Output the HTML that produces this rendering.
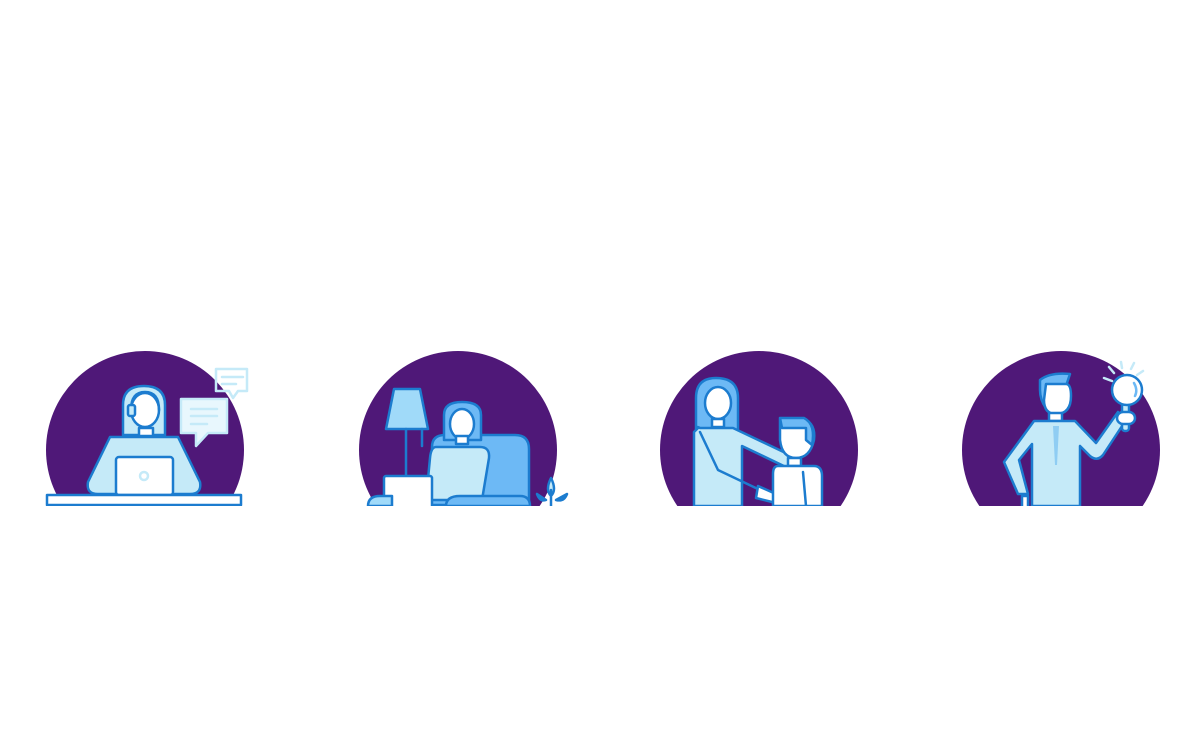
<!DOCTYPE html>
<html><head><meta charset="utf-8"><style>html,body{margin:0;padding:0;background:#fff}svg{display:block}</style></head>
<body>
<svg width="1200" height="756" viewBox="0 0 1200 756" xmlns="http://www.w3.org/2000/svg">
<defs><clipPath id="c"><rect x="0" y="0" width="1200" height="506"/></clipPath></defs>
<g clip-path="url(#c)" stroke-linejoin="round" stroke-linecap="round">
<g fill="#4f1878">
<circle cx="145" cy="450" r="99"/><circle cx="458" cy="450" r="99"/><circle cx="759" cy="450" r="99"/><circle cx="1061" cy="450" r="99"/>
</g>
<g stroke="#1c7ccf" stroke-width="2.5">
<!-- 1 -->
<path d="M123 435 V405 Q123 386 144 386 Q165 386 165 405 V435 Z" fill="#c5eaf8"/>
<ellipse cx="145" cy="410" rx="14" ry="17" fill="#fff"/>
<path d="M131 410 Q131 392 145 392 Q159 392 159 410" fill="none"/>
<rect x="128" y="405" width="7" height="11" rx="2" fill="#c5eaf8"/>
<rect x="139" y="428" width="14" height="8" fill="#fff"/>
<path d="M110 437 H178 L200 482 Q202 494 190 494 H98 Q86 494 88 482 Z" fill="#c5eaf8"/>
<rect x="116" y="457" width="57" height="38" rx="3" fill="#fff"/>
<circle cx="144" cy="476" r="4" fill="none" stroke="#c5eaf8"/>
<rect x="47" y="495" width="194" height="10" fill="#fff"/>
<path d="M181 399 H227 V433 H208 L196 446 V433 H181 Z" fill="#e8f7fd" stroke="#c5eaf8"/>
<path d="M191 409H217M191 416H217M191 424H207" stroke="#c5eaf8"/>
<path d="M216 369 H247 V391 H238 L233 398 L229 391 H216 Z" fill="none" stroke="#c5eaf8"/>
<path d="M222 377H243M222 384H236" stroke="#c5eaf8"/>
<!-- 2 -->
<path d="M394 389 H420 L428 429 H386 Z" fill="#a0daf9"/>
<path d="M406 429 V476M422 429 V446" fill="none"/>
<path d="M432 496 V447 Q432 435 445 435 H515 Q529 435 529 449 V505 H432" fill="#6db9f5"/>
<path d="M444 440 V415 Q444 402 462 402 Q481 402 481 415 V440 Z" fill="#6db9f5"/>
<ellipse cx="462" cy="424" rx="12" ry="15" fill="#fff"/>
<rect x="456" y="436" width="12" height="8" fill="#fff"/>
<path d="M436 447 H480 Q490 447 489 458 L482 500 H426 L430 458 Q431 447 436 447Z" fill="#c5eaf8"/>
<rect x="384" y="476" width="48" height="40" rx="2" fill="#fff"/>
<path d="M368 506 Q368 496 380 496 H392 V506Z" fill="#a0daf9"/>
<path d="M446 506 Q446 496 460 496 H520 Q530 496 530 506Z" fill="#6db9f5"/>
<path d="M551 506 V490 M551 478 Q545 490 551 496 Q557 490 551 478Z M546 500 L537 494 Q540 502 546 500Z M556 500 L567 494 Q564 502 556 500Z" fill="#c5eaf8"/>
<!-- 3 -->
<path d="M696 434 V398 Q696 378 716 378 Q738 378 738 398 V434 Z" fill="#6db9f5"/>
<ellipse cx="718" cy="403" rx="13" ry="16" fill="#fff"/>
<rect x="712" y="419" width="12" height="8" fill="#fff"/>
<path d="M698 428 Q696 426 700 428 H733 L792 456 L788 468 L742 446 V506 H694 V432 Z" fill="#c5eaf8"/>
<path d="M700 432 L718 470 L760 490" fill="none"/>
<path d="M758 486 L776 494 Q780 500 772 502 L756 498Z" fill="#fff"/>
<path d="M780 419 H804 Q816 424 814 440 Q810 458 796 458 Q782 458 780 440 Z" fill="#fff"/>
<path d="M780 418 H804 Q816 424 812 445 L806 440 V428 H782Z" fill="#6db9f5"/>
<rect x="788" y="458" width="13" height="8" fill="#fff"/>
<path d="M778 466 H814 Q822 466 822 476 V506 H773 V474 Q773 466 778 466Z" fill="#fff"/>
<path d="M803 472 L806 506" fill="none"/>
<!-- 4 -->
<path d="M1040 380 Q1050 372 1070 374 L1066 386 H1046 V408 Q1040 400 1040 390Z" fill="#6db9f5"/>
<path d="M1046 384 H1066 Q1071 384 1071 396 Q1071 414 1056 414 Q1044 414 1044 400 Z" fill="#fff"/>
<rect x="1049" y="413" width="13" height="8" fill="#fff"/>
<path d="M1034 421 H1075 L1096 443 L1118 412 L1126 420 L1103 455 Q1097 462 1090 456 L1080 446 V506 H1032 V444 L1019 460 L1028 494 H1018 L1004 462 Z" fill="#c5eaf8"/>
<path d="M1053 426 H1059 L1057 465 H1055 Z" fill="#8fcdf3" stroke="none"/>
<rect x="1022" y="496" width="6" height="12" fill="#fff"/>
<rect x="1122" y="402" width="7" height="29" rx="3" fill="#c5eaf8"/>
<rect x="1117" y="412" width="18" height="12" rx="6" fill="#fff"/>
<circle cx="1127" cy="390" r="15" fill="#fff"/>
<path d="M1104 378L1112 381M1109 367L1114 373M1121 362L1122 368M1134 363L1131 369M1143 371L1137 375" stroke="#c5eaf8"/>
<path d="M1134 383 Q1138 390 1135 396" fill="none" stroke="#6db9f5"/>
</g>
</g>
</svg>
</body></html>
